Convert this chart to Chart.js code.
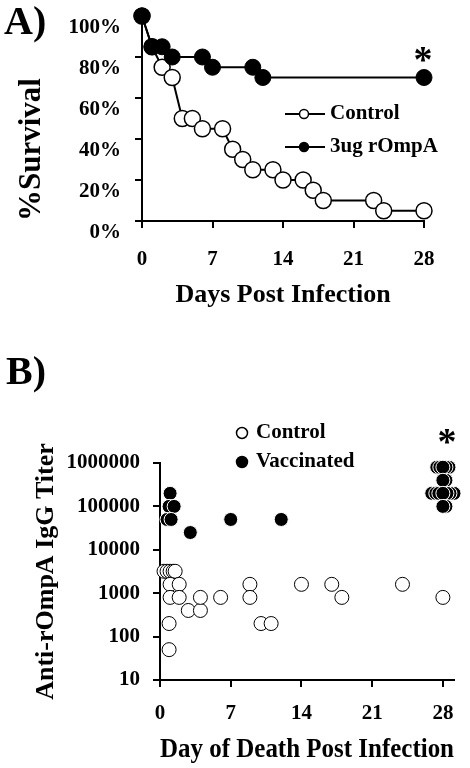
<!DOCTYPE html>
<html>
<head>
<meta charset="utf-8">
<script src="https://cdn.jsdelivr.net/npm/chart.js@4.4.1/dist/chart.umd.min.js"></script>
<style>
  body { margin: 0; background: #fff; }
  #wrap { position: relative; width: 470px; height: 768px; }
  #chartA { position: absolute; left: 0; top: 0; }
  #chartB { position: absolute; left: 0; top: 320px; }
</style>
</head>
<body>
<div id="wrap">
  <canvas id="chartA" width="470" height="320"></canvas>
  <canvas id="chartB" width="470" height="448"></canvas>
</div>
<script>
// Panel A - survival
const controlDays = [0, 1, 2, 3, 4, 5, 6, 8, 9, 10, 11, 13, 14, 16, 17, 18, 23, 24, 28];
const controlSurvival = [100, 85, 75, 70, 50, 50, 45, 45, 35, 30, 25, 25, 20, 20, 15, 10, 10, 5, 5];
const vaccDays = [0, 1, 2, 3, 6, 7, 11, 12, 28];
const vaccSurvival = [100, 85, 85, 80, 80, 75, 75, 70, 70];
const daysTicks = [0, 7, 14, 21, 28];
const survivalTicks = [0, 20, 40, 60, 80, 100];

// Panel B - titers by day of death
const ctrlDeathDay = [0.4, 0.7, 1.0, 1.3, 1.5, 1.0, 1.9, 1.0, 1.9, 2.8, 4, 4, 6, 0.9, 0.9, 8.9, 8.9, 10, 11, 14, 17, 18, 24, 28];
const ctrlTiter = [3200, 3200, 3200, 3200, 3200, 1600, 1600, 800, 800, 400, 400, 800, 800, 200, 50, 1600, 800, 200, 200, 1600, 1600, 800, 1600, 800];
const vaccDeathDay = [1, 0.9, 1.4, 0.7, 1.1, 3, 7, 12,
  27.4, 28.6, 27.7, 28.3, 28,
  28.3, 28,
  26.9, 29.1, 27.3, 28.7, 27.6, 28.4, 28,
  28.3, 28];
const vaccTiter = [200000, 100000, 100000, 50000, 50000, 25000, 50000, 50000,
  800000, 800000, 800000, 800000, 800000,
  400000, 400000,
  200000, 200000, 200000, 200000, 200000, 200000, 200000,
  100000, 100000];
const titerTicks = [10, 100, 1000, 10000, 100000, 1000000];

const serif = "'Liberation Serif', 'Times New Roman', serif";
Chart.defaults.font.family = serif;
Chart.defaults.font.weight = 'bold';
Chart.defaults.color = '#000';

function pts(xs, ys) {
    return xs.map((x, i) => ({ x: x, y: ys[i] }));
}

function axisGrid() {
    return { display: true, drawOnChartArea: false, drawTicks: true, tickLength: 7, color: '#000', lineWidth: 2 };
}

// panel letter, asterisk and legend drawn on top
function extrasPlugin(opts) {
    return {
        id: 'extras',
        afterDraw(chart) {
            const ctx = chart.ctx;
            ctx.save();
            ctx.fillStyle = '#000';
            ctx.textBaseline = 'alphabetic';
            ctx.textAlign = 'left';
            ctx.font = 'bold 40px ' + serif;
            ctx.fillText(opts.letter, opts.letterX, opts.letterY);

            ctx.textAlign = 'center';
            ctx.font = 'bold 38px ' + serif;
            ctx.fillText('*', opts.starX, opts.starY);

            ctx.textAlign = 'left';
            ctx.textBaseline = 'middle';
            ctx.font = 'bold 21px ' + serif;
            opts.legend.forEach(item => {
                const ds = chart.data.datasets[item.index];
                const y = item.y;
                if (opts.withLine) {
                    ctx.strokeStyle = '#000';
                    ctx.lineWidth = 2;
                    ctx.beginPath();
                    ctx.moveTo(opts.lineX0, y);
                    ctx.lineTo(opts.lineX1, y);
                    ctx.stroke();
                }
                ctx.beginPath();
                ctx.arc(opts.markX, y, opts.markR, 0, Math.PI * 2);
                ctx.fillStyle = ds.pointBackgroundColor;
                ctx.fill();
                ctx.lineWidth = 1.5;
                ctx.strokeStyle = '#000';
                ctx.stroke();
                ctx.fillStyle = '#000';
                ctx.fillText(ds.label, opts.textX, y);
            });
            ctx.restore();
        }
    };
}

// keep the plot area where the figure has it
function fixWidth(w) {
    return s => { s.width = w; s.paddingTop = 0; s.paddingBottom = 0; };
}
function fixHeight(h) {
    return s => { s.height = h; s.paddingLeft = 0; s.paddingRight = 0; };
}

new Chart(document.getElementById('chartA'), {
    type: 'line',
    data: {
        datasets: [{
            label: 'Control',
            data: pts(controlDays, controlSurvival),
            borderColor: '#000',
            borderWidth: 2,
            pointRadius: 8,
            pointBackgroundColor: '#fff',
            pointBorderColor: '#000',
            pointBorderWidth: 1.5,
            clip: false,
            order: 2
        }, {
            label: '3ug rOmpA',
            data: pts(vaccDays, vaccSurvival),
            borderColor: '#000',
            borderWidth: 2,
            pointRadius: 8,
            pointBackgroundColor: '#000',
            pointBorderColor: '#000',
            pointBorderWidth: 1,
            clip: false,
            order: 1
        }]
    },
    options: {
        responsive: false,
        animation: false,
        layout: { padding: { left: 0, right: 46, top: 16, bottom: 0 } },
        plugins: { legend: { display: false }, tooltip: { enabled: false } },
        scales: {
            x: {
                type: 'linear',
                min: 0,
                max: 28,
                afterBuildTicks: s => { s.ticks = daysTicks.map(v => ({ value: v })); },
                afterFit: fixHeight(99),
                grid: axisGrid(),
                border: { display: true, color: '#000', width: 2 },
                ticks: { font: { size: 21 }, padding: 19, maxRotation: 0 },
                title: { display: true, text: 'Days Post Infection', font: { size: 26 }, padding: { top: 0, bottom: 9 } }
            },
            y: {
                min: 0,
                max: 100,
                afterBuildTicks: s => { s.ticks = survivalTicks.map(v => ({ value: v })); },
                afterFit: fixWidth(142),
                grid: axisGrid(),
                border: { display: true, color: '#000', width: 2 },
                ticks: { font: { size: 21 }, padding: 14, labelOffset: 12, callback: v => v + '%' },
                title: { display: true, text: '%Survival', font: { size: 31 }, align: 'start', padding: { top: 13, bottom: 0 } }
            }
        }
    },
    plugins: [extrasPlugin({
        letter: 'A)', letterX: 4, letterY: 34,
        starX: 423, starY: 72,
        withLine: true, lineX0: 285, lineX1: 325, markX: 304, markR: 4.5, textX: 330,
        legend: [{ index: 0, y: 114 }, { index: 1, y: 147 }]
    })]
});

new Chart(document.getElementById('chartB'), {
    type: 'scatter',
    data: {
        datasets: [{
            label: 'Control',
            data: pts(ctrlDeathDay, ctrlTiter),
            pointRadius: 7,
            pointBackgroundColor: '#fff',
            pointBorderColor: '#000',
            pointBorderWidth: 1,
            clip: false,
            order: 2
        }, {
            label: 'Vaccinated',
            data: pts(vaccDeathDay, vaccTiter),
            pointRadius: 7,
            pointBackgroundColor: '#000',
            pointBorderColor: '#fff',
            pointBorderWidth: 1,
            clip: false,
            order: 1
        }]
    },
    options: {
        responsive: false,
        animation: false,
        layout: { padding: { left: 0, right: 16, top: 143, bottom: 0 } },
        plugins: { legend: { display: false }, tooltip: { enabled: false } },
        scales: {
            x: {
                type: 'linear',
                min: 0,
                max: 29.1,
                afterBuildTicks: s => { s.ticks = daysTicks.map(v => ({ value: v })); },
                afterFit: fixHeight(88),
                grid: axisGrid(),
                border: { display: true, color: '#000', width: 2 },
                ticks: { font: { size: 21 }, padding: 14, maxRotation: 0 },
                title: { display: true, text: 'Day of Death Post Infection', font: { size: 27 }, padding: { top: 0, bottom: 2 } }
            },
            y: {
                type: 'logarithmic',
                min: 10,
                max: 1000000,
                afterBuildTicks: s => { s.ticks = titerTicks.map(v => ({ value: v })); },
                afterFit: fixWidth(160),
                grid: axisGrid(),
                border: { display: true, color: '#000', width: 2 },
                ticks: { font: { size: 21 }, padding: 13, callback: v => String(v) },
                title: { display: true, text: 'Anti-rOmpA IgG Titer', font: { size: 26 }, padding: { top: 31, bottom: 0 } }
            }
        }
    },
    plugins: [extrasPlugin({
        letter: 'B)', letterX: 6, letterY: 64,
        starX: 447, starY: 134,
        withLine: false, markX: 242, markR: 5.5, textX: 256,
        legend: [{ index: 0, y: 113 }, { index: 1, y: 142 }]
    })]
});
</script>
</body>
</html>
